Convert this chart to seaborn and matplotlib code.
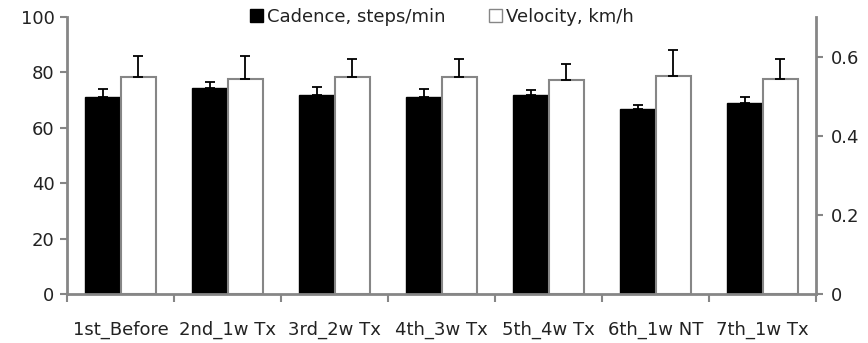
import matplotlib
matplotlib.use("Agg")
import matplotlib.pyplot as plt
import matplotlib.patches as mpatches
import seaborn as sns
import pandas as pd
import numpy as np

categories = ["1st_Before", "2nd_1w Tx", "3rd_2w Tx", "4th_3w Tx", "5th_4w Tx", "6th_1w NT", "7th_1w Tx"]
cadence = [71.2, 74.3, 72.0, 71.2, 72.0, 66.7, 69.0]
cadence_err = [2.9, 2.2, 2.7, 2.9, 1.5, 1.6, 2.2]
velocity = [0.548, 0.543, 0.548, 0.548, 0.540, 0.552, 0.543]
velocity_err = [0.053, 0.058, 0.045, 0.045, 0.041, 0.065, 0.050]
series = ["Cadence, steps/min", "Velocity, km/h"]
left_ticks = [0, 20, 40, 60, 80, 100]
right_ticks = [0, 0.2, 0.4, 0.6]
right_ticklabels = ["0", "0.2", "0.4", "0.6"]

sns.set_style("ticks")
plt.rcParams['font.family'] = ['DejaVu Sans']
TXT = "#222222"
AX = "#868686"
FS = 13

# each axis gets both hue levels so seaborn dodges; the other series is a hidden placeholder
n = len(categories)
df_c = pd.DataFrame({"cat": categories * 2, "val": cadence + [0.0] * n,
                     "series": [series[0]] * n + [series[1]] * n})
df_v = pd.DataFrame({"cat": categories * 2, "val": [0.0] * n + velocity,
                     "series": [series[0]] * n + [series[1]] * n})

fig = plt.figure(figsize=(8.68, 3.43), dpi=100)
ax = fig.add_axes([67/868, 1-294/343, (816-67)/868, (294-17)/343])
ax2 = ax.twinx()

sns.barplot(data=df_c, x="cat", y="val", hue="series", hue_order=series, order=categories,
            palette={series[0]: "black", series[1]: "white"}, width=0.67, errorbar=None,
            legend=False, ax=ax, edgecolor="black", linewidth=1.0)
sns.barplot(data=df_v, x="cat", y="val", hue="series", hue_order=series, order=categories,
            palette={series[0]: "black", series[1]: "white"}, width=0.67, errorbar=None,
            legend=False, ax=ax2, edgecolor=AX, linewidth=1.5)

for a in (ax, ax2):
    for p in a.patches:
        if p.get_height() == 0:
            p.set_visible(False)

def add_err(axis, vals, errs):
    bars = [p for p in axis.patches if p.get_height() > 0]
    bars.sort(key=lambda p: p.get_x())
    xs = [p.get_x() + p.get_width() / 2 for p in bars]
    axis.errorbar(xs, vals, yerr=[np.zeros(len(errs)), errs], fmt="none",
                  ecolor="black", elinewidth=1.3, capsize=3.5, capthick=1.3, zorder=1)

add_err(ax, cadence, cadence_err)
add_err(ax2, velocity, velocity_err)

ax.set_ylim(0, 100)
ax2.set_ylim(0, 0.7)
ax.set_xlim(-0.5, len(categories) - 0.5)
ax.set_yticks(left_ticks)
ax2.set_yticks(right_ticks)
ax2.set_yticklabels(right_ticklabels)
ax.set_xticks(range(len(categories)))
ax.set_xticklabels(categories)
ax.set_xticks(np.arange(-0.5, len(categories), 1.0), minor=True)
ax.tick_params(axis="x", which="major", length=0, pad=19, labelsize=FS, labelcolor=TXT)
ax.tick_params(axis="x", which="minor", length=6, width=1.5, color=AX)
ax.tick_params(axis="y", length=5, width=1.5, color=AX, labelsize=FS, labelcolor=TXT, pad=4)
ax2.tick_params(axis="y", length=5, width=1.5, color=AX, labelsize=FS, labelcolor=TXT, pad=6)
ax.set_xlabel("")
ax.set_ylabel("")
ax2.set_ylabel("")

for s in ["top", "right"]:
    ax.spines[s].set_visible(False)
for s in ["top", "left", "bottom"]:
    ax2.spines[s].set_visible(False)
for s in ["left", "bottom"]:
    ax.spines[s].set_color(AX)
    ax.spines[s].set_linewidth(2)
ax2.spines["right"].set_color(AX)
ax2.spines["right"].set_linewidth(2)

handles = [mpatches.Patch(facecolor="black", edgecolor="black", label=series[0]),
           mpatches.Patch(facecolor="white", edgecolor=AX, label=series[1])]
leg = ax2.legend(handles=handles, loc="center", bbox_to_anchor=(0.5, 1.0), ncol=2,
                 frameon=False, fontsize=FS, handlelength=0.75, handleheight=0.75,
                 handletextpad=0.2, columnspacing=2.4, labelcolor=TXT)

fig.savefig("out.png", dpi=100, facecolor="white")
